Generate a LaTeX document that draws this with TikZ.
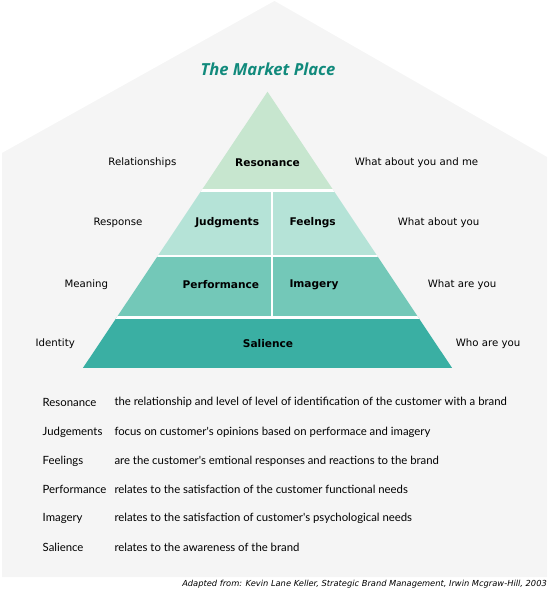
\documentclass[tikz,border=0pt]{standalone}
\usepackage{fontspec}
\setmainfont{DejaVu Sans}
\newfontfamily\titlefont{Open Sans}
\newfontfamily\listfont{Lato}
\usepackage{tikz}
\usetikzlibrary{calc}
\usepackage{xcolor}

\definecolor{houseGray}{HTML}{F5F5F5}
\definecolor{tierOne}{HTML}{C7E6CF}
\definecolor{tierTwo}{HTML}{B5E3D7}
\definecolor{tierThree}{HTML}{73C8B8}
\definecolor{tierFour}{HTML}{3AAFA3}
\definecolor{titleTeal}{HTML}{118A7C}

\begin{document}
\begin{tikzpicture}[x=1pt, y=-1pt,
		side/.style={font=\fontsize{10.2}{12}\selectfont, inner sep=0pt},
		tier/.style={font=\fontsize{10.6}{12}\selectfont\bfseries, inner sep=0pt},
		term/.style={font=\listfont\fontsize{11.35}{13}\selectfont, anchor=west, inner sep=0pt},
		gap/.style={white, line width=2.6pt}]
			\useasboundingbox (0,0) rectangle (549,593);

			% house
			\fill[houseGray] (274.5,1) -- (547,157) -- (547,577) -- (2,577) -- (2,153) -- cycle;
			\node[font=\titlefont\fontsize{16.6}{20}\selectfont\bfseries\itshape, text=titleTeal] (title) at (268,69) {The Market Place};

			% pyramid tiers
			\begin{scope}
				\clip (267.5,91.7) -- (452.1,368) -- (82.9,368) -- cycle;
				\fill[tierOne] (100,80) rectangle (440,190.5);
				\fill[tierTwo] (100,190.5) rectangle (440,256);
				\fill[tierThree] (100,256) rectangle (440,317.5);
				\fill[tierFour] (80,317.5) rectangle (460,368);
				\draw[gap] (80,190.5) -- (460,190.5);
				\draw[gap] (80,256) -- (460,256);
				\draw[gap] (80,317.5) -- (460,317.5);
				\draw[gap] (272,190.5) -- (272,317.5);
			\end{scope}

			% tier names
			\node[tier] (resonance) at (267.5,163) {Resonance};
			\node[tier, anchor=east] (judgments) at (259.3,223) {Judgments};
			\node[tier, anchor=west] (feelings) at (289.3,223) {Feelngs};
			\node[tier, anchor=east] (performance) at (259.3,285) {Performance};
			\node[tier, anchor=west] (imagery) at (289.3,285) {Imagery};
			\node[tier] (salience) at (268,344) {Salience};

			% left side
			\node[side, anchor=east] (relationships) at (176.5,163) {Relationships};
			\node[side, anchor=east] (response) at (142.7,223) {Response};
			\node[side, anchor=east] (meaning) at (108.3,285) {Meaning};
			\node[side, anchor=east] (identity) at (75,344) {Identity};

			% right side
			\node[side, anchor=west] (youme) at (354.7,163) {What about you and me};
			\node[side, anchor=west] (aboutyou) at (397.7,223) {What about you};
			\node[side, anchor=west] (areyou) at (427.7,285) {What are you};
			\node[side, anchor=west] (whoyou) at (455.7,344) {Who are you};

			% glossary
			\node[term] (gResonance) at (42.5,402) {Resonance};
			\node[term] (dResonance) at (114.3,402) {the relationship and level of level of identification of the customer with a brand};
			\node[term] (gJudgements) at (42.5,432) {Judgements};
			\node[term] (dJudgements) at (114.3,432) {focus on customer's opinions based on performace and imagery};
			\node[term] (gFeelings) at (42.5,461) {Feelings};
			\node[term] (dFeelings) at (114.3,461) {are the customer's emtional responses and reactions to the brand};
			\node[term] (gPerformance) at (42.5,489) {Performance};
			\node[term] (dPerformance) at (114.3,489) {relates to the satisfaction of the customer functional needs};
			\node[term] (gImagery) at (42.5,518) {Imagery};
			\node[term] (dImagery) at (114.3,518) {relates to the satisfaction of customer's psychological needs};
			\node[term] (gSalience) at (42.5,547) {Salience};
			\node[term] (dSalience) at (114.3,547) {relates to the awareness of the brand};

			\node[font=\fontsize{8.3}{9}\selectfont\itshape, anchor=east, inner sep=0pt] (source) at (547,584) {Adapted from: Kevin Lane Keller, Strategic Brand Management, Irwin Mcgraw-Hill, 2003};
		\end{tikzpicture}
\end{document}
